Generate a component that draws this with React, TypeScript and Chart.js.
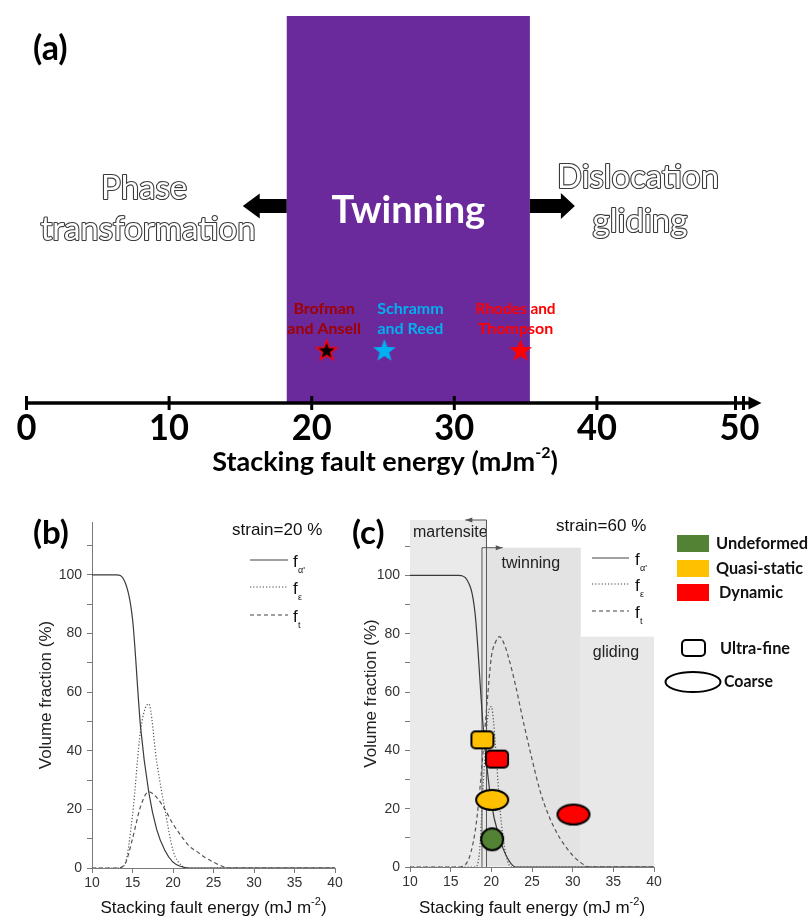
import React, { useEffect, useRef } from 'react';
import { Chart, registerables } from 'chart.js';

Chart.register(...registerables);

const LATO = 'Lato, "Open Sans", "DejaVu Sans", sans-serif';
const ARIAL = '"Liberation Sans", Arial, "DejaVu Sans", sans-serif';

// ---------------- Panel (a) data ----------------
const sfeTickValues = [0, 10, 20, 30, 40, 50];
const twinningRange = [18.25, 35.3];
const refNames = [['Brofman', 'and Ansell'], ['Schramm', 'and Reed'], ['Rhodes and', 'Thompson']];
const refSfe = [21.05, 25.1, 34.65];
const refLevel = [0.137, 0.137, 0.137];

// ---------------- Panel (b) data: strain = 20 % ----------------
const bAlphaX = [10, 13, 14, 15, 16, 17, 18, 19, 20, 21, 22, 40];
const bAlphaY = [100, 100, 98, 85, 48, 26, 13, 6, 2, 0.5, 0, 0];
const bEpsX = [10, 13, 14, 15, 16, 17, 18, 19, 20, 21, 22, 40];
const bEpsY = [0, 0, 1, 18, 47, 56, 36, 20, 6, 1, 0, 0];
const bTwinX = [10, 13, 14, 15, 16, 17, 18, 19, 20, 21, 22, 23, 24, 25, 26, 27, 40];
const bTwinY = [0, 0, 1, 10, 21, 26, 24, 20, 15, 11, 7.5, 5.5, 3.5, 2, 0.7, 0, 0];

// ---------------- Panel (c) data: strain = 60 % ----------------
const cAlphaX = [10, 16, 17, 18, 19, 20, 21, 22, 23, 40];
const cAlphaY = [100, 100, 98.5, 87, 48, 22, 10, 3, 0, 0];
const cEpsX = [10, 18, 18.5, 19, 19.5, 20, 20.5, 21, 21.5, 22, 22.5, 40];
const cEpsY = [0, 0, 4, 28, 50, 55, 42, 22, 9, 2, 0, 0];
const cTwinX = [10, 16, 17, 18, 18.5, 19, 19.5, 20, 20.5, 21, 21.5, 22, 23, 24, 25, 26, 27, 28, 29, 30, 31, 32, 40];
const cTwinY = [0, 0, 1.5, 12, 24, 40, 57, 72, 77, 79, 77, 73, 62, 49, 37, 26, 18, 12, 7.5, 4, 1.5, 0, 0];

const regionNames = ['martensite', 'twinning', 'gliding'];
const regionFrom = [10, 19.4, 31];
const regionTo = [19.4, 31, 40];
const regionTop = [119, 109.5, 79];
const martensiteLimit = 19.4;
const martensiteArrowTo = 16.8;
const twinningOnset = 18.85;
const twinningArrowTo = 21.4;

const stateNames = ['Undeformed', 'Quasi-static', 'Dynamic'];
const stateColors = ['#548235', '#FFC000', '#FF0000'];
const ultraFineX = [18.9, 20.7];
const ultraFineY = [43.6, 37];
const ultraFineState = ['Quasi-static', 'Dynamic'];
const coarseX = [20.1, 30.1];
const coarseY = [23, 18];
const coarseState = ['Quasi-static', 'Dynamic'];
const undeformedX = [20.1];
const undeformedY = [9.5];

// ---------------- helpers ----------------
const colorOf = (s: string) => stateColors[stateNames.indexOf(s)];
const pts = (xs: number[], ys: number[]) => xs.map((x, i) => ({ x, y: ys[i] }));

function rrPath(g: CanvasRenderingContext2D, x: number, y: number, w: number, h: number, r: number) {
  g.moveTo(x + r, y);
  g.arcTo(x + w, y, x + w, y + h, r);
  g.arcTo(x + w, y + h, x, y + h, r);
  g.arcTo(x, y + h, x, y, r);
  g.arcTo(x, y, x + w, y, r);
  g.closePath();
}

function starCanvas(fill: string, stroke: string | null, r: number) {
  const s = Math.ceil(r * 2 + 4);
  const c = document.createElement('canvas');
  c.width = s; c.height = s;
  const g = c.getContext('2d')!;
  g.beginPath();
  for (let i = 0; i < 10; i++) {
    const rad = i % 2 === 0 ? r : r * 0.42;
    const a = -Math.PI / 2 + (i * Math.PI) / 5;
    g.lineTo(s / 2 + rad * Math.cos(a), s / 2 + 1 + rad * Math.sin(a));
  }
  g.closePath();
  g.fillStyle = fill;
  g.fill();
  if (stroke) { g.strokeStyle = stroke; g.lineWidth = 1.6; g.stroke(); }
  return c;
}

function markerCanvas(kind: string, fill: string) {
  const d = kind === 'square' ? [22, 17] : kind === 'ellipse' ? [32, 20] : [22, 22];
  const c = document.createElement('canvas');
  c.width = d[0] + 4; c.height = d[1] + 4;
  const g = c.getContext('2d')!;
  g.beginPath();
  if (kind === 'square') rrPath(g, 2, 2, d[0], d[1], 4);
  else g.ellipse(c.width / 2, c.height / 2, d[0] / 2, d[1] / 2, 0, 0, Math.PI * 2);
  g.fillStyle = fill; g.fill();
  g.lineWidth = 2; g.strokeStyle = '#000'; g.stroke();
  return c;
}

type Part = { t: string; font: string; dy?: number };
function drawRich(ctx: CanvasRenderingContext2D, parts: Part[], cx: number, cy: number, maxW?: number) {
  let total = 0;
  const ws = parts.map((p) => { ctx.font = p.font; const w = ctx.measureText(p.t).width; total += w; return w; });
  const k = maxW && total > maxW ? maxW / total : 1;
  ctx.save();
  ctx.translate(cx - (total * k) / 2, cy);
  ctx.scale(k, 1);
  ctx.textAlign = 'left';
  ctx.textBaseline = 'middle';
  let xx = 0;
  parts.forEach((p, i) => { ctx.font = p.font; ctx.fillText(p.t, xx, p.dy || 0); xx += ws[i]; });
  ctx.restore();
}

function outlineText(ctx: CanvasRenderingContext2D, t: string, cx: number, cy: number, size: number, maxW: number) {
  ctx.font = `${size}px ${LATO}`;
  ctx.textAlign = 'center';
  ctx.textBaseline = 'middle';
  ctx.lineWidth = 2.2;
  ctx.lineJoin = 'round';
  ctx.strokeStyle = '#3a3a3a';
  ctx.strokeText(t, cx, cy, maxW);
  ctx.fillStyle = '#ffffff';
  ctx.fillText(t, cx, cy, maxW);
}

function blockArrow(ctx: CanvasRenderingContext2D, xs: number, yc: number, xt: number, hs: number, hh: number, hl: number) {
  const d = Math.sign(xt - xs);
  const xb = xt - d * hl;
  ctx.beginPath();
  ctx.moveTo(xs, yc - hs); ctx.lineTo(xb, yc - hs); ctx.lineTo(xb, yc - hh); ctx.lineTo(xt, yc);
  ctx.lineTo(xb, yc + hh); ctx.lineTo(xb, yc + hs); ctx.lineTo(xs, yc + hs);
  ctx.closePath();
  ctx.fill();
}

function thinArrow(ctx: CanvasRenderingContext2D, x0: number, y: number, x1: number) {
  const d = Math.sign(x1 - x0);
  ctx.beginPath(); ctx.moveTo(x0, y); ctx.lineTo(x1, y); ctx.stroke();
  ctx.beginPath(); ctx.moveTo(x1, y); ctx.lineTo(x1 - d * 7, y - 2.5); ctx.lineTo(x1 - d * 7, y + 2.5); ctx.closePath(); ctx.fill();
}

function drawFLegend(ctx: CanvasRenderingContext2D, x0: number, x1: number, ys: number[], tx: number) {
  const dashes = [[], [1.2, 2], [4, 3]];
  const subs = ["α'", 'ε', 't'];
  ctx.save();
  ys.forEach((y, i) => {
    ctx.strokeStyle = '#444'; ctx.lineWidth = 1.2;
    ctx.setLineDash(dashes[i]);
    ctx.beginPath(); ctx.moveTo(x0, y); ctx.lineTo(x1, y); ctx.stroke();
    ctx.setLineDash([]);
    ctx.fillStyle = '#111'; ctx.textAlign = 'left'; ctx.textBaseline = 'alphabetic';
    ctx.font = `17px ${ARIAL}`;
    ctx.fillText('f', tx, y + 7);
    ctx.font = `9px ${ARIAL}`;
    ctx.fillText(subs[i], tx + 5, y + 13);
  });
  ctx.restore();
}

function sfeTitle(ctx: CanvasRenderingContext2D, cx: number, cy: number) {
  ctx.fillStyle = '#111';
  drawRich(ctx, [
    { t: 'Stacking fault energy (mJ m', font: `17px ${ARIAL}` },
    { t: '-2', font: `11px ${ARIAL}`, dy: -6 },
    { t: ')', font: `17px ${ARIAL}` },
  ], cx, cy);
}

function curveScales(yMax: number, yW: number, xH: number, titlePad: number) {
  const axisGrey = '#7a7a7a';
  return {
    x: {
      type: 'linear', min: 10, max: 40,
      border: { color: axisGrey, width: 1 },
      grid: { drawOnChartArea: false, drawTicks: true, tickLength: 5, color: axisGrey },
      ticks: { stepSize: 5, includeBounds: false, color: '#333', font: { size: 14, family: ARIAL }, padding: 2, maxRotation: 0, autoSkip: false },
      afterFit: (s: any) => { s.height = xH; },
    },
    y: {
      type: 'linear', min: 0, max: yMax,
      border: { color: axisGrey, width: 1 },
      grid: { drawOnChartArea: false, drawTicks: true, tickLength: 5, color: axisGrey },
      ticks: { stepSize: 10, includeBounds: false, color: '#333', font: { size: 14, family: ARIAL }, padding: 5,
        callback: (v: any) => (Number(v) % 20 === 0 ? String(v) : '') },
      title: { display: true, text: 'Volume fraction (%)', color: '#222', font: { size: 17, family: ARIAL }, padding: { top: titlePad, bottom: 0 } },
      afterFit: (s: any) => { s.width = yW; },
    },
  };
}

function curveDatasets(ax: number[], ay: number[], ex: number[], ey: number[], tx: number[], ty: number[]) {
  const base = { showLine: true, pointRadius: 0, borderWidth: 1.2, fill: false, cubicInterpolationMode: 'monotone' };
  return [
    { ...base, label: "fα'", data: pts(ax, ay), borderColor: '#3a3a3a' },
    { ...base, label: 'fε', data: pts(ex, ey), borderColor: '#555', borderDash: [1.2, 2] },
    { ...base, label: 'ft', data: pts(tx, ty), borderColor: '#555', borderDash: [4, 3] },
  ];
}

// ---------------- Panel (a) ----------------
function makeA(canvas: HTMLCanvasElement) {
  const starImgs = [starCanvas('#000000', '#FF0000', 10.5), starCanvas('#00B0F0', null, 12), starCanvas('#FF0000', null, 12)];
  const labelColors = ['#A00000', '#00B0F0', '#FF0000'];
  const labelDx = [-2.5, 26, -5];
  const plugin = {
    id: 'panelA',
    beforeDatasetsDraw(chart: any) {
      const { ctx, scales: { x, y } } = chart;
      const x0 = x.getPixelForValue(twinningRange[0]);
      const x1 = x.getPixelForValue(twinningRange[1]);
      const yT = y.getPixelForValue(1);
      const yB = y.getPixelForValue(0);
      ctx.save();
      ctx.fillStyle = '#6B2A9B';
      ctx.fillRect(x0, yT, x1 - x0, yB - yT);
      ctx.fillStyle = '#000';
      blockArrow(ctx, x0, 206, x0 - 44, 7, 12.5, 17);
      blockArrow(ctx, x1, 206, x1 + 45, 7, 13, 14);
      ctx.fillStyle = '#fff';
      ctx.font = `bold 38px ${LATO}`;
      ctx.textAlign = 'center';
      ctx.textBaseline = 'middle';
      ctx.fillText('Twinning', (x0 + x1) / 2, 211, 163);
      outlineText(ctx, 'Phase', 144, 188, 33, 86);
      outlineText(ctx, 'transformation', 148, 229, 33, 219);
      outlineText(ctx, 'Dislocation', 638, 177, 33, 162);
      outlineText(ctx, 'gliding', 640, 221, 33, 100);
      ctx.fillStyle = '#000';
      ctx.font = `bold 34px ${LATO}`;
      ctx.textAlign = 'left';
      ctx.fillText('(a)', 33, 49);
      ctx.restore();
    },
    afterDatasetsDraw(chart: any) {
      const { ctx, scales: { x, y } } = chart;
      ctx.save();
      ctx.textAlign = 'center';
      ctx.textBaseline = 'middle';
      ctx.font = `bold 16px ${LATO}`;
      refSfe.forEach((v, i) => {
        const px = x.getPixelForValue(v) + labelDx[i];
        const py = y.getPixelForValue(refLevel[i]);
        ctx.fillStyle = labelColors[i];
        ctx.fillText(refNames[i][0], px, py - 41, 80);
        ctx.fillText(refNames[i][1], px, py - 21, 80);
      });
      ctx.restore();
    },
    afterDraw(chart: any) {
      const { ctx, scales: { x, y } } = chart;
      const yA = y.getPixelForValue(0);
      const xs = x.getPixelForValue(sfeTickValues[0]);
      const xe = x.getPixelForValue(sfeTickValues[sfeTickValues.length - 1]);
      ctx.save();
      ctx.strokeStyle = '#000';
      ctx.fillStyle = '#000';
      ctx.lineWidth = 3.5;
      ctx.beginPath(); ctx.moveTo(xs, yA); ctx.lineTo(xe + 10, yA); ctx.stroke();
      ctx.beginPath(); ctx.moveTo(xe + 22, yA); ctx.lineTo(xe + 9, yA - 6.5); ctx.lineTo(xe + 9, yA + 6.5); ctx.closePath(); ctx.fill();
      ctx.lineWidth = 3;
      sfeTickValues.forEach((v) => {
        const px = x.getPixelForValue(v);
        const list = v === sfeTickValues[sfeTickValues.length - 1] ? [px - 4, px + 4] : [px];
        list.forEach((q) => { ctx.beginPath(); ctx.moveTo(q, yA - 7); ctx.lineTo(q, yA + 7); ctx.stroke(); });
      });
      ctx.font = `bold 37px ${LATO}`;
      ctx.textAlign = 'center';
      ctx.textBaseline = 'middle';
      sfeTickValues.forEach((v) => {
        ctx.fillText(String(v), x.getPixelForValue(v), yA + 25, v === 0 ? 20 : 40);
      });
      drawRich(ctx, [
        { t: 'Stacking fault energy (mJm', font: `bold 27px ${LATO}` },
        { t: '-2', font: `bold 16px ${LATO}`, dy: -9 },
        { t: ')', font: `bold 27px ${LATO}` },
      ], 385, yA + 59, 380);
      ctx.restore();
    },
  };
  return new Chart(canvas, {
    type: 'scatter',
    data: {
      datasets: [{
        label: 'Literature SFE',
        data: pts(refSfe, refLevel),
        pointStyle: starImgs as any,
        pointRadius: 12,
      }],
    },
    options: {
      animation: false,
      responsive: false,
      events: [],
      layout: { padding: { left: 26.5, right: 71.5, top: 16, bottom: 77 } },
      plugins: { legend: { display: false }, tooltip: { enabled: false } },
      scales: {
        x: { type: 'linear', min: 0, max: 50, display: false },
        y: { type: 'linear', min: 0, max: 1, display: false },
      },
    } as any,
    plugins: [plugin],
  });
}

// ---------------- Panel (b) ----------------
function makeB(canvas: HTMLCanvasElement) {
  const plugin = {
    id: 'panelB',
    afterDraw(chart: any) {
      const { ctx, chartArea } = chart;
      ctx.save();
      ctx.fillStyle = '#000';
      ctx.font = `bold 33px ${LATO}`;
      ctx.textAlign = 'left';
      ctx.textBaseline = 'middle';
      ctx.fillText('(b)', 33, 43);
      ctx.fillStyle = '#111';
      ctx.font = `17px ${ARIAL}`;
      ctx.fillText('strain=20 %', 232, 40);
      drawFLegend(ctx, 250, 288, [70, 97, 125], 293);
      sfeTitle(ctx, (chartArea.left + chartArea.right) / 2, 418);
      ctx.restore();
    },
  };
  return new Chart(canvas, {
    type: 'scatter',
    data: { datasets: curveDatasets(bAlphaX, bAlphaY, bEpsX, bEpsY, bTwinX, bTwinY) as any },
    options: {
      animation: false,
      responsive: false,
      events: [],
      layout: { padding: { left: 0, top: 32, right: 55, bottom: 0 } },
      plugins: { legend: { display: false }, tooltip: { enabled: false } },
      scales: curveScales(118, 92, 50, 36) as any,
    } as any,
    plugins: [plugin],
  });
}

// ---------------- Panel (c) ----------------
function makeC(canvas: HTMLCanvasElement) {
  const regionFill = ['#EAEAEA', '#E3E3E3', '#E8E8E8'];
  const labelDx = [3, 15, 12];
  const labelDy = [13, 16, 16];
  const plugin = {
    id: 'panelC',
    beforeDatasetsDraw(chart: any) {
      const { ctx, scales: { x, y } } = chart;
      ctx.save();
      regionNames.forEach((name, i) => {
        const l = x.getPixelForValue(regionFrom[i]);
        const r = x.getPixelForValue(regionTo[i]);
        const t = y.getPixelForValue(regionTop[i]);
        const b = y.getPixelForValue(0) - 0.5;
        ctx.fillStyle = regionFill[i];
        ctx.fillRect(l, t, r - l, b - t);
      });
      ctx.fillStyle = '#222';
      ctx.font = `16px ${ARIAL}`;
      ctx.textAlign = 'left';
      ctx.textBaseline = 'middle';
      regionNames.forEach((name, i) => {
        ctx.fillText(name, x.getPixelForValue(regionFrom[i]) + labelDx[i], y.getPixelForValue(regionTop[i]) + labelDy[i]);
      });
      // boundary lines with arrows
      ctx.strokeStyle = '#555';
      ctx.fillStyle = '#555';
      ctx.lineWidth = 1;
      const yb = y.getPixelForValue(0);
      const xm = x.getPixelForValue(martensiteLimit);
      const ym = y.getPixelForValue(119);
      ctx.beginPath(); ctx.moveTo(xm, ym); ctx.lineTo(xm, yb); ctx.stroke();
      thinArrow(ctx, xm, ym, x.getPixelForValue(martensiteArrowTo));
      const xt = x.getPixelForValue(twinningOnset);
      const yt = y.getPixelForValue(109.5);
      ctx.beginPath(); ctx.moveTo(xt, yt); ctx.lineTo(xt, yb); ctx.stroke();
      thinArrow(ctx, xt, yt, x.getPixelForValue(twinningArrowTo));
      ctx.restore();
    },
    afterDraw(chart: any) {
      const { ctx, chartArea } = chart;
      ctx.save();
      ctx.fillStyle = '#000';
      ctx.font = `bold 33px ${LATO}`;
      ctx.textAlign = 'left';
      ctx.textBaseline = 'middle';
      ctx.fillText('(c)', 7, 43);
      ctx.fillStyle = '#111';
      ctx.font = `17px ${ARIAL}`;
      ctx.fillText('strain=60 %', 211, 36);
      drawFLegend(ctx, 247, 284, [68, 94, 121], 290);
      sfeTitle(ctx, (chartArea.left + chartArea.right) / 2, 418);
      // right legend: states
      const rectY = [45, 70, 94];
      const textX = [371, 371, 374];
      const textW = [92, 87, 64];
      stateNames.forEach((s, i) => {
        ctx.fillStyle = stateColors[i];
        ctx.fillRect(332, rectY[i], 32, 17);
        ctx.fillStyle = '#111';
        ctx.font = `bold 17px ${LATO}`;
        ctx.textAlign = 'left';
        ctx.textBaseline = 'middle';
        ctx.fillText(s, textX[i], rectY[i] + 9, textW[i]);
      });
      // grain size legend
      ctx.strokeStyle = '#000';
      ctx.lineWidth = 2;
      ctx.beginPath(); rrPath(ctx, 337, 150, 23, 16, 4); ctx.stroke();
      ctx.beginPath(); ctx.ellipse(348, 192, 27.5, 10, 0, 0, Math.PI * 2); ctx.stroke();
      ctx.fillStyle = '#111';
      ctx.font = `bold 17px ${LATO}`;
      ctx.fillText('Ultra-fine', 375, 159, 70);
      ctx.fillText('Coarse', 379, 192, 49);
      ctx.restore();
    },
  };
  const markerSets = [
    { label: 'Ultra-fine', data: pts(ultraFineX, ultraFineY), pointStyle: ultraFineState.map((s) => markerCanvas('square', colorOf(s))) },
    { label: 'Coarse', data: pts(coarseX, coarseY), pointStyle: coarseState.map((s) => markerCanvas('ellipse', colorOf(s))) },
    { label: 'Undeformed', data: pts(undeformedX, undeformedY), pointStyle: undeformedX.map(() => markerCanvas('circle', colorOf('Undeformed'))) },
  ].map((d) => ({ ...d, showLine: false, pointRadius: 12 }));
  return new Chart(canvas, {
    type: 'scatter',
    data: { datasets: [...markerSets, ...curveDatasets(cAlphaX, cAlphaY, cEpsX, cEpsY, cTwinX, cTwinY)] as any },
    options: {
      animation: false,
      responsive: false,
      events: [],
      layout: { padding: { left: 0, top: 30, right: 157, bottom: 0 } },
      plugins: { legend: { display: false }, tooltip: { enabled: false } },
      scales: curveScales(119, 65, 51, 16) as any,
    } as any,
    plugins: [plugin],
  });
}

export default function App() {
  const aRef = useRef<HTMLCanvasElement>(null);
  const bRef = useRef<HTMLCanvasElement>(null);
  const cRef = useRef<HTMLCanvasElement>(null);
  useEffect(() => {
    document.body.style.margin = '0';
    const charts = [makeA(aRef.current!), makeB(bRef.current!), makeC(cRef.current!)];
    return () => charts.forEach((c) => c.destroy());
  }, []);
  return (
    <div style={{ position: 'absolute', left: 0, top: 0, width: 811, height: 918, background: '#fff', overflow: 'hidden' }}>
      <canvas ref={aRef} width={811} height={480} style={{ position: 'absolute', left: 0, top: 0 }} />
      <canvas ref={bRef} width={390} height={428} style={{ position: 'absolute', left: 0, top: 490 }} />
      <canvas ref={cRef} width={466} height={428} style={{ position: 'absolute', left: 345, top: 490 }} />
    </div>
  );
}
